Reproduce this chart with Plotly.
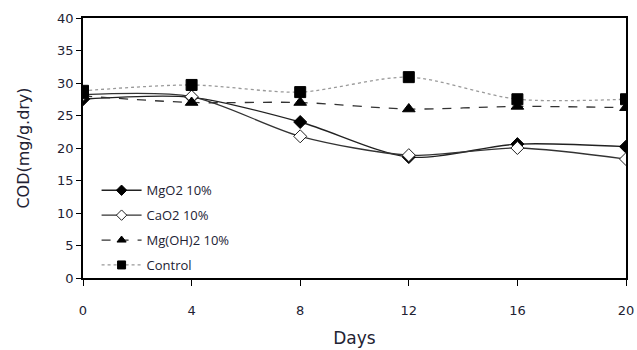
import plotly.graph_objects as go

days = [0, 4, 8, 12, 16, 20]
mgo2 = [27.5, 27.8, 24.0, 18.6, 20.6, 20.2]
cao2 = [28.2, 27.9, 21.8, 18.9, 20.0, 18.3]
mgoh2 = [28.0, 27.0, 27.0, 26.0, 26.4, 26.2]
control = [28.8, 29.7, 28.6, 30.9, 27.5, 27.5]

x_ticks = [0, 4, 8, 12, 16, 20]
y_ticks = [0, 5, 10, 15, 20, 25, 30, 35, 40]

series = [
    ("MgO2 10%", mgo2, dict(color="#222222", width=1.3), "diamond", "black", "black"),
    ("CaO2 10%", cao2, dict(color="#333333", width=1.3), "diamond", "white", "#222222"),
    ("Mg(OH)2 10%", mgoh2, dict(color="#333333", width=1.3, dash="dash"), "triangle-up", "black", "black"),
    ("Control", control, dict(color="#999999", width=1.3, dash="dot"), "square", "black", "black"),
]
sizes = {"diamond": 10, "triangle-up": 11, "square": 11}
leg_sizes = {"diamond": 8, "triangle-up": 8, "square": 8}

fig = go.Figure()
for i, (name, vals, ln, sym, fc, lc) in enumerate(series):
    fig.add_trace(go.Scatter(x=days, y=vals, name=name, mode="lines+markers", showlegend=False,
        line=dict(shape="spline", smoothing=0.8, **ln),
        marker=dict(symbol=sym, size=sizes[sym], color=fc, line=dict(color=lc, width=1))))
for i, (name, vals, ln, sym, fc, lc) in enumerate(series):
    fig.add_trace(go.Scatter(x=[None], y=[None], name=name, mode="lines+markers",
        legendgroup=str(i), line=ln,
        marker=dict(symbol=sym, size=leg_sizes[sym], color=fc, line=dict(color=lc, width=1))))

fig.update_layout(
    width=637, height=350,
    margin=dict(l=83, r=11, t=18, b=72, autoexpand=False),
    paper_bgcolor="white", plot_bgcolor="white",
    font=dict(family="DejaVu Sans", color="#222233"),
    showlegend=True,
    legend=dict(x=0.025, y=0.395, xanchor="left", yanchor="top", bgcolor="rgba(0,0,0,0)",
                font=dict(family="Open Sans", size=13, color="#222233"), tracegroupgap=5,
                itemwidth=40),
    xaxis=dict(range=[0, 20], tickvals=x_ticks, showline=True, linecolor="black", linewidth=1.5,
               mirror=True, ticks="outside", ticklen=6, tickcolor="black", showgrid=False,
               automargin=False, ticklabelstandoff=14,
               zeroline=False, tickfont=dict(size=13), title=dict(text="Days", font=dict(size=17), standoff=15)),
    yaxis=dict(range=[0, 40], tickvals=y_ticks, showline=True, linecolor="black", linewidth=1.5,
               mirror=True, ticks="outside", ticklen=5, tickcolor="black", showgrid=False,
               automargin=False,
               zeroline=False, tickfont=dict(size=13), title=dict(text="COD(mg/g.dry)", font=dict(size=16), standoff=24)),
)
fig.write_html("out.html")
